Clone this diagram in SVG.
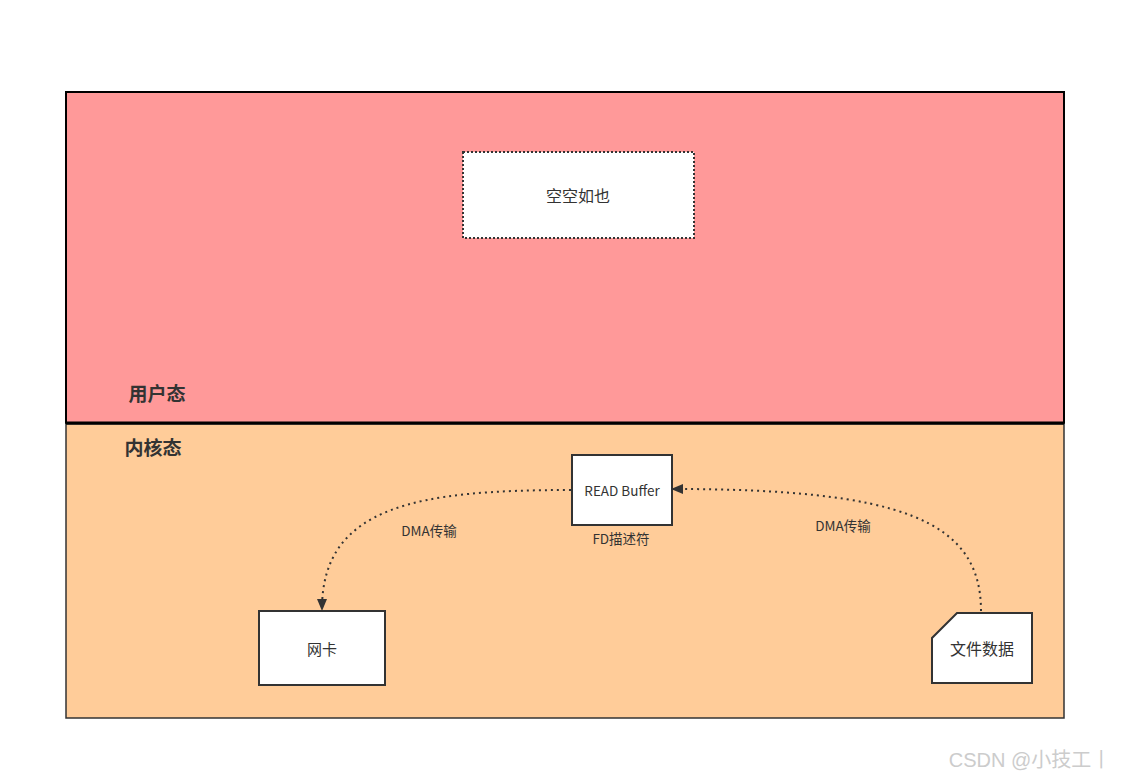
<svg xmlns="http://www.w3.org/2000/svg" width="1125" height="780" viewBox="0 0 1125 780">
<defs>
<style>
.t{font-family:"Noto Sans CJK SC","Open Sans","Liberation Sans",sans-serif;fill:#333;text-anchor:middle;dominant-baseline:central}
.box{fill:#fff;stroke:#333;stroke-width:2}
.conn{fill:none;stroke:#333;stroke-width:2;stroke-dasharray:2 4}
</style>
<marker id="ah" markerWidth="12" markerHeight="10" refX="10" refY="5" orient="auto" markerUnits="userSpaceOnUse">
<path d="M0,0 L12,5 L0,10 Z" fill="#333"/>
</marker>
</defs>
<rect width="1125" height="780" fill="#fff"/>
<g id="user-space">
<rect x="66" y="92" width="998" height="331" fill="#FF9999" stroke="#000" stroke-width="2"/>
<text class="t" x="157" y="392" font-size="19" font-weight="bold">用户态</text>
</g>
<g id="kernel-space">
<rect x="66" y="424" width="998" height="294" fill="#FFCC99" stroke="#333" stroke-width="1.5"/>
<line x1="66" y1="423" x2="1064" y2="423" stroke="#000" stroke-width="3"/>
<text class="t" x="153" y="446" font-size="19" font-weight="bold">内核态</text>
</g>
<g id="empty">
<rect x="463" y="152" width="231" height="86" fill="#fff" stroke="#333" stroke-width="2" stroke-dasharray="2 2"/>
<text class="t" x="578" y="195" font-size="16">空空如也</text>
</g>
<g id="read-buffer">
<rect class="box" x="572" y="455" width="100" height="70"/>
<text class="t" x="622" y="490" font-size="13.5">READ Buffer</text>
<text class="t" x="621" y="538" font-size="13.5">FD描述符</text>
</g>
<g id="nic">
<rect class="box" x="259" y="611" width="126" height="74"/>
<text class="t" x="322" y="648" font-size="15">网卡</text>
</g>
<g id="file-data">
<path class="box" d="M957,613 L1032,613 L1032,683 L932,683 L932,638 Z"/>
<text class="t" x="982" y="648" font-size="16">文件数据</text>
</g>
<g id="connectors">
<path class="conn" d="M571,490 C420,490 322,505 322,609" marker-end="url(#ah)"/>
<path class="conn" d="M981,611 C981,520 900,489 673,489" marker-end="url(#ah)"/>
<text class="t" x="429" y="530" font-size="13.5">DMA传输</text>
<text class="t" x="843" y="525" font-size="13.5">DMA传输</text>
</g>
<text x="1030" y="760" font-family="'Liberation Sans','Noto Sans CJK SC',sans-serif" font-size="20" fill="#ccc" text-anchor="middle" dominant-baseline="central">CSDN @小技工丨</text>
</svg>
